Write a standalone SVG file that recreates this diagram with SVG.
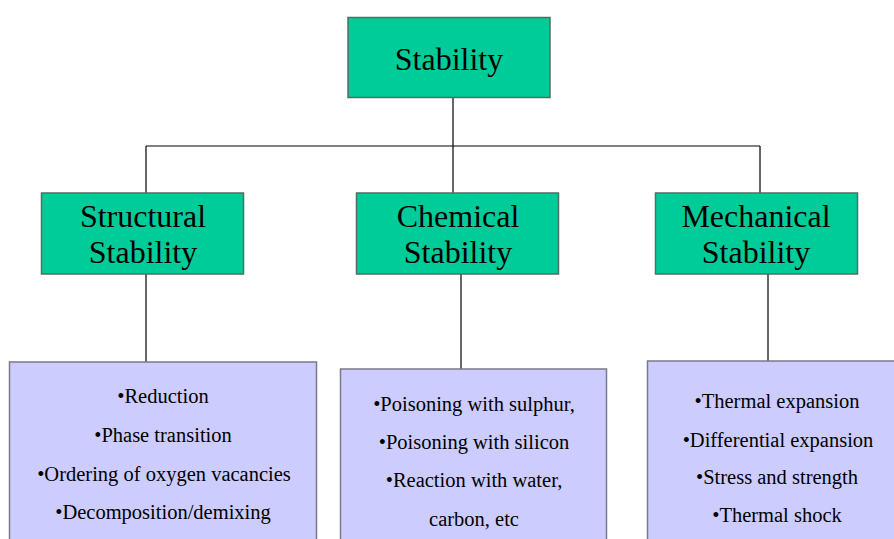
<svg xmlns="http://www.w3.org/2000/svg" width="894" height="539" viewBox="0 0 894 539">
<style>
.g{fill:#00CC99;stroke:#4f6f64;stroke-width:1.5}
.p{fill:#CCCCFF;stroke:#7a7a8a;stroke-width:1.5}
.t{fill:#000;text-anchor:middle}
.big{font-size:32px}
.sm{font-size:20.5px}
.c{stroke:#000;stroke-width:1.2;fill:none}
</style>
<rect width="894" height="539" fill="#fff"/>
<g id="connectors">
<line class="c" x1="453" y1="97" x2="453" y2="146"/>
<line class="c" x1="146" y1="146" x2="760" y2="146"/>
<line class="c" x1="146" y1="146" x2="146" y2="193"/>
<line class="c" x1="453" y1="146" x2="453" y2="193"/>
<line class="c" x1="760" y1="146" x2="760" y2="193"/>
<line class="c" x1="146" y1="274" x2="146" y2="362"/>
<line class="c" x1="461" y1="274" x2="461" y2="369"/>
<line class="c" x1="768" y1="274" x2="768" y2="361"/>
</g>
<g font-family="Liberation Serif, DejaVu Serif, serif">
<g id="stability">
<rect class="g" x="348" y="17.5" width="202" height="80"/>
<text class="t big" x="449" y="70">Stability</text>
</g>
<g id="structural">
<rect class="g" x="41.5" y="193" width="202" height="81"/>
<text class="t big" x="143" y="227">Structural</text>
<text class="t big" x="143" y="263">Stability</text>
</g>
<g id="chemical">
<rect class="g" x="356.5" y="193" width="202" height="81"/>
<text class="t big" x="458" y="227">Chemical</text>
<text class="t big" x="458" y="263">Stability</text>
</g>
<g id="mechanical">
<rect class="g" x="655.5" y="193" width="202" height="81"/>
<text class="t big" x="756" y="227">Mechanical</text>
<text class="t big" x="756" y="263">Stability</text>
</g>
<g id="structural-list">
<rect class="p" x="9.5" y="362" width="307" height="190"/>
<text class="t sm" x="163" y="403">•Reduction</text>
<text class="t sm" x="163" y="442">•Phase transition</text>
<text class="t sm" x="164" y="481">•Ordering of oxygen vacancies</text>
<text class="t sm" x="163" y="519">•Decomposition/demixing</text>
</g>
<g id="chemical-list">
<rect class="p" x="340.5" y="369" width="266" height="190"/>
<text class="t sm" x="474" y="411">•Poisoning with sulphur,</text>
<text class="t sm" x="474" y="449">•Poisoning with silicon</text>
<text class="t sm" x="474" y="487">•Reaction with water,</text>
<text class="t sm" x="474" y="526">carbon, etc</text>
</g>
<g id="mechanical-list">
<rect class="p" x="647.5" y="361" width="262" height="190"/>
<text class="t sm" x="777" y="408">•Thermal expansion</text>
<text class="t sm" x="778" y="447">•Differential expansion</text>
<text class="t sm" x="777" y="484">•Stress and strength</text>
<text class="t sm" x="777" y="522">•Thermal shock</text>
</g>
</g>
</svg>
